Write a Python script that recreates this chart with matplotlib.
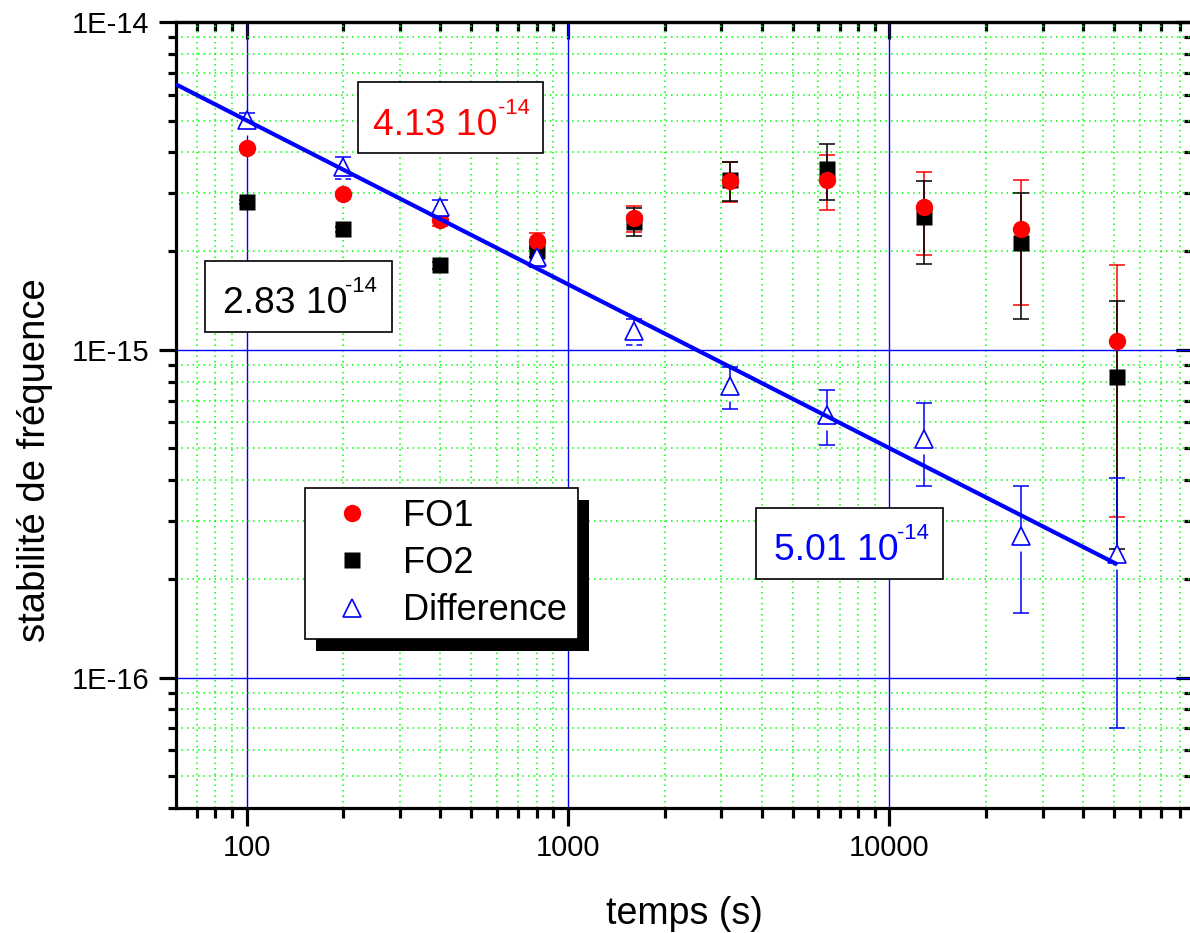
import numpy as np
import matplotlib
matplotlib.use("Agg")
import matplotlib.pyplot as plt
from matplotlib.ticker import FuncFormatter, NullFormatter, FixedLocator
from matplotlib.patches import Rectangle
from matplotlib.lines import Line2D
from matplotlib.path import Path
from matplotlib.transforms import IdentityTransform

plt.rcParams["font.family"] = ["Liberation Sans", "DejaVu Sans"]

# ---- data -------------------------------------------------------------
tau = [100, 200, 400, 800, 1600, 3200, 6400, 12800, 25600, 51200]

fo1 = [4.13e-15, 2.99e-15, 2.49e-15, 2.15e-15, 2.52e-15,
       3.28e-15, 3.30e-15, 2.72e-15, 2.33e-15, 1.06e-15]
fo1_err = [0.05e-15, 0.05e-15, 0.10e-15, 0.12e-15, 0.235e-15,
           0.45e-15, 0.635e-15, 0.77e-15, 0.96e-15, 0.75e-15]

fo2 = [2.83e-15, 2.33e-15, 1.81e-15, 2.00e-15, 2.46e-15,
       3.285e-15, 3.555e-15, 2.55e-15, 2.12e-15, 0.826e-15]
fo2_err = [0.04e-15, 0.04e-15, 0.04e-15, 0.08e-15, 0.24e-15,
           0.445e-15, 0.685e-15, 0.72e-15, 0.88e-15, 0.58e-15]

diff = [5.02e-15, 3.60e-15, 2.73e-15, 1.92e-15, 1.14e-15,
        7.74e-16, 6.32e-16, 5.36e-16, 2.70e-16, 2.38e-16]
diff_err = [0.25e-15, 0.27e-15, 0.13e-15, 0.13e-15, 0.105e-15,
            1.12e-16, 1.20e-16, 1.53e-16, 1.13e-16, 1.68e-16]

series_names = ["FO1", "FO2", "Difference"]

x_ticks = [100, 1000, 10000]
y_ticks = [1e-16, 1e-15, 1e-14]

# tau^-1/2 fit of the difference: sigma(tau) = coef / sqrt(tau)
fit_coef = 5.01e-14
fit_tau = [60.3, 51200]
fit_vals = [fit_coef / np.sqrt(t) for t in fit_tau]

# coefficient annotations (mantissa, exponent)
coef_texts = [("4.13 10", "-14"), ("2.83 10", "-14"), ("5.01 10", "-14")]

RED, BLUE, BLACK = "#ff0000", "#0000ff", "#000000"
MS_CIRCLE, MS_SQUARE, MS_TRI = 12.5, 11.0, 13.5

# ---- figure / axes ----------------------------------------------------
W, H = 1190, 933
fig = plt.figure(figsize=(W / 100, H / 100), dpi=100)


def fx(px):
    return px / W


def fy(py):
    return 1 - py / H


ax = fig.add_axes([fx(176), fy(808), (1193 - 176) / W, (808 - 22) / H])
ax.set_xscale("log")
ax.set_yscale("log")
ax.set_xlim(60.3, 88000)
ax.set_ylim(4e-17, 1e-14)

ax.set_axisbelow(True)
ax.grid(which="minor", color="#00ff00", lw=1.1, ls=(0, (1, 2.6)))
ax.grid(which="major", color=BLUE, lw=1.0, ls="-")

ax.xaxis.set_major_locator(FixedLocator(x_ticks))
ax.yaxis.set_major_locator(FixedLocator(y_ticks))
ax.xaxis.set_major_formatter(FuncFormatter(lambda v, p: "%d" % round(v)))
ax.xaxis.set_minor_formatter(NullFormatter())
ax.yaxis.set_major_formatter(
    FuncFormatter(lambda v, p: "1E%d" % round(np.log10(v))))
ax.yaxis.set_minor_formatter(NullFormatter())

ax.tick_params(which="both", direction="out", width=2.3, top=False,
               right=False, labelsize=21)
ax.tick_params(axis="x", which="major", length=13, pad=6)
ax.tick_params(axis="x", which="minor", length=7)
ax.tick_params(axis="y", which="major", length=12, pad=7)
ax.tick_params(axis="y", which="minor", length=6)
for s in ax.spines.values():
    s.set_linewidth(2.3)

# inward ticks on the top and right edges
secx = ax.secondary_xaxis("top")
secx.xaxis.set_major_locator(FixedLocator(x_ticks))
secx.tick_params(which="both", direction="in", width=2.3, labeltop=False)
secx.tick_params(which="major", length=12)
secx.tick_params(which="minor", length=6.5)
secy = ax.secondary_yaxis("right")
secy.yaxis.set_major_locator(FixedLocator(y_ticks))
secy.tick_params(which="both", direction="in", width=2.3, labelright=False)
secy.tick_params(which="major", length=12)
secy.tick_params(which="minor", length=6.5)
for sec in (secx, secy):
    for s in sec.spines.values():
        s.set_linewidth(2.3)

# ---- data marks -------------------------------------------------------
eb_kw = dict(fmt="none", elinewidth=1.1, capsize=5.6, capthick=1.1)
ax.errorbar(tau, fo1, yerr=fo1_err, ecolor=RED, zorder=3, **eb_kw)
ax.errorbar(tau, fo2, yerr=fo2_err, ecolor=BLACK, zorder=3.1, **eb_kw)
ax.errorbar(tau, diff, yerr=diff_err, ecolor=BLUE, zorder=3.2, **eb_kw)

# small white gap between each triangle's base and its lower error bar
gap_path = Path([(-0.25, -1.0), (0.25, -1.0), (0.25, -1.55), (-0.25, -1.55),
                 (-0.25, -1.0)], closed=True)
ax.plot(tau, diff, ls="none", marker=gap_path, ms=MS_TRI * 1.55,
        mfc="white", mec="none", zorder=3.9)

ax.plot(tau, fo2, ls="none", marker="s", ms=MS_SQUARE, color=BLACK,
        mec="none", zorder=4)
ax.plot(tau, fo1, ls="none", marker="o", ms=MS_CIRCLE, color=RED,
        mec="none", zorder=4.1)
ax.plot(tau, diff, ls="none", marker="^", ms=MS_TRI, mfc="white", mec=BLUE,
        mew=1.2, zorder=4.2)

ax.plot(fit_tau, fit_vals, color=BLUE, lw=3.0, solid_capstyle="butt",
        zorder=5)

# ---- axis titles ------------------------------------------------------
ax.set_xlabel("temps (s)", fontsize=27)
ax.xaxis.set_label_coords(0.5, -0.112)
ax.set_ylabel("stabilité de fréquence", fontsize=27.5)
ax.yaxis.set_label_coords(-0.121, 0.4427)

# ---- legend with solid drop shadow -----------------------------------
handles = [
    Line2D([], [], ls="none", marker="o", ms=MS_CIRCLE, color=RED,
           mec="none"),
    Line2D([], [], ls="none", marker="s", ms=MS_SQUARE, color=BLACK,
           mec="none"),
    Line2D([], [], ls="none", marker="^", ms=MS_TRI, mfc="white", mec=BLUE,
           mew=1.2),
]
leg = ax.legend(handles, series_names, loc="upper left",
                bbox_to_anchor=((305 - 176) / 1017, (808 - 488) / 786),
                borderaxespad=0, fontsize=26, frameon=True, fancybox=False,
                edgecolor=BLACK, framealpha=1, borderpad=0.3,
                labelspacing=0.34, handlelength=2.0, handletextpad=0.42)
leg.get_frame().set_linewidth(1.2)
leg.set_zorder(7)

fig.canvas.draw()
bb = leg.get_window_extent()
shadow = Rectangle((bb.x0 + 11, bb.y0 - 12), bb.width, bb.height,
                   transform=IdentityTransform(), fc=BLACK, ec="none",
                   zorder=6.9)
ax.add_patch(shadow)

# ---- coefficient boxes ------------------------------------------------
boxes = [
    # (box left, top, right, bottom), text origin, exponent origin, colour
    ((357.7, 81.7, 543, 153), (373.3, 135), (498, 114), RED),
    ((205, 260.7, 392, 331.7), (222.7, 313.3), (345, 291.7), BLACK),
    ((756, 508, 943, 579), (774, 560), (897.5, 539.3), BLUE),
]
for (box, main_xy, sup_xy, col), (mant, expo) in zip(boxes, coef_texts):
    x0, y0, x1, y1 = box
    fig.add_artist(Rectangle((fx(x0), fy(y1)), (x1 - x0) / W, (y1 - y0) / H,
                             transform=fig.transFigure, fc="white",
                             ec=BLACK, lw=1.2, zorder=8))
    fig.text(fx(main_xy[0]), fy(main_xy[1]), mant, fontsize=26.8, color=col,
             ha="left", va="baseline", zorder=9)
    fig.text(fx(sup_xy[0]), fy(sup_xy[1]), expo, fontsize=15.8, color=col,
             ha="left", va="baseline", zorder=9)

fig.savefig("out.png", dpi=100)
